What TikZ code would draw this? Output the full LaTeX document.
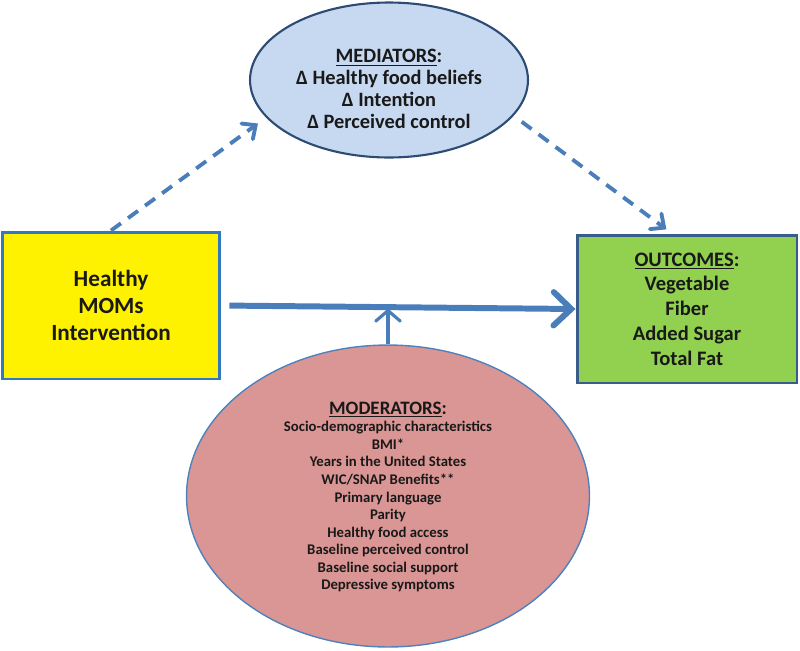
\documentclass[tikz,border=0pt]{standalone}
\usepackage{fontspec}
\setmainfont{Carlito}
\usetikzlibrary{arrows.meta,shapes.geometric}
\definecolor{medfill}{RGB}{198,217,241}
\definecolor{medline}{RGB}{45,75,115}
\definecolor{intline}{RGB}{50,120,190}
\definecolor{outfill}{RGB}{146,208,80}
\definecolor{outline}{RGB}{56,93,138}
\definecolor{modfill}{RGB}{217,150,148}
\definecolor{modline}{RGB}{79,129,189}
\definecolor{arrowblue}{RGB}{74,126,187}
\definecolor{txt}{RGB}{25,25,25}
\begin{document}
\begin{tikzpicture}[x=0.02cm,y=-0.02cm,
  txtnode/.style={align=center,text=txt,font=\bfseries},
  dasharrow/.style={arrowblue,line width=2.2pt,dash pattern=on 7pt off 5pt,
    -{Straight Barb[length=6pt,width=11pt,line cap=round]}},
  mainarrow/.style={arrowblue,line width=3.4pt,
    -{Straight Barb[length=10pt,width=19pt,line cap=round]}},
  smallarrow/.style={arrowblue,line width=1.8pt,
    -{Straight Barb[length=6pt,width=14pt,line cap=round]}}]
 \useasboundingbox (0,0) rectangle (800,650);
 \node[ellipse,draw=medline,line width=1.2pt,fill=medfill,minimum width=5.56cm,minimum height=3.1cm] (med) at (389,80) {};
 \node[txtnode,font=\bfseries\fontsize{11.6}{12.5}\selectfont] (medtxt) at (389,89)
   {\underline{MEDIATORS}:\\Δ Healthy food beliefs\\Δ Intention\\Δ Perceived control};
 \node[rectangle,draw=intline,line width=1.7pt,fill=yellow,minimum width=4.36cm,minimum height=2.94cm,
   txtnode,font=\bfseries\fontsize{13.2}{15.6}\selectfont] (int) at (111,305.5) {Healthy\\MOMs\\Intervention};
 \node[rectangle,draw=outline,line width=1.7pt,fill=outfill,minimum width=4.4cm,minimum height=2.96cm,
   txtnode,font=\bfseries\fontsize{11.7}{14.1}\selectfont] (out) at (687,309)
   {\underline{OUTCOMES}:\\Vegetable\\Fiber\\Added Sugar\\Total Fat};
 \node[ellipse,draw=modline,line width=0.8pt,fill=modfill,minimum width=8.06cm,minimum height=6.04cm] (mod) at (388,496) {};
 \node[txtnode,font=\bfseries\fontsize{8.4}{10}\selectfont] (modtxt) at (388,497)
   {{\fontsize{10.8}{10}\selectfont\underline{MODERATORS}:}\\Socio-demographic characteristics\\BMI*\\Years in the United States\\
    WIC/SNAP Benefits**\\Primary language\\Parity\\Healthy food access\\Baseline perceived control\\
    Baseline social support\\Depressive symptoms};
 \draw[dasharrow,shorten >=0.2cm] (int.north) -- (med.197);
 \draw[dasharrow,shorten <=0.2cm,shorten >=0.14cm] (med.-16) -- ([xshift=-0.3cm]out.north);
 \draw[mainarrow,shorten <=0.16cm] (int.east) -- (out.west);
 \draw[smallarrow,shorten >=0.06cm] (mod.north) -- (mod.north |- int.east);
\end{tikzpicture}
\end{document}
